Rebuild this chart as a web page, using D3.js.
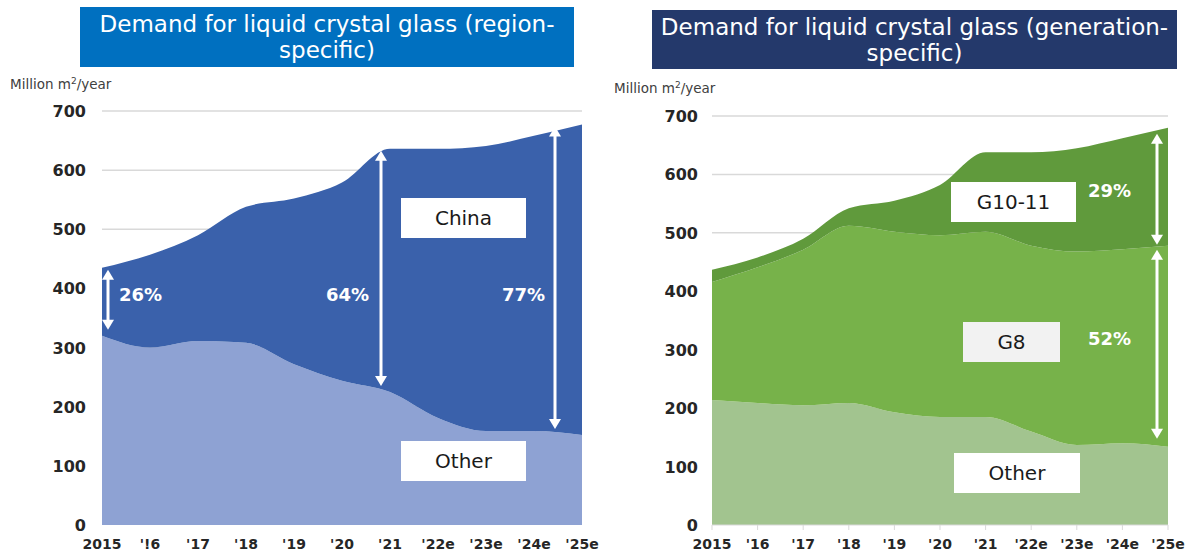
<!DOCTYPE html>
<html>
<head>
<meta charset="utf-8">
<script src="https://cdn.jsdelivr.net/npm/d3@7"></script>
<style>
  html, body { margin: 0; padding: 0; background: #fff; }
  svg { display: block; font-family: "DejaVu Sans", Verdana, sans-serif; }
</style>
</head>
<body>
<svg id="chart" width="1188" height="555"></svg>
<script>
// years on the x axis (0..10 = 2015..2025e)
var years = d3.range(0, 11);
var leftTicks = ["2015", "'!6", "'17", "'18", "'19", "'20", "'21", "'22e", "'23e", "'24e", "'25e"];
var rightTicks = ["2015", "'16", "'17", "'18", "'19", "'20", "'21", "'22e", "'23e", "'24e", "'25e"];
var yTicks = [0, 100, 200, 300, 400, 500, 600, 700];

// region-specific demand, million m2/year
var regionOther = [320, 300, 311, 308, 272, 244, 225, 181, 159, 159, 152];
var regionChina = [115, 157, 179, 230, 280, 335, 411, 455, 482, 499, 525];

// generation-specific demand, million m2/year
var genOther = [214, 209, 205, 209, 193, 185, 185, 160, 137, 140, 134];
var genG8    = [202, 232, 266, 303, 309, 311, 317, 318, 331, 332, 344];
var genG1011 = [21, 17, 19, 30, 53, 86, 136, 160, 177, 190, 202];

var svg = d3.select('#chart');

function drawPanel(opt) {
  var x = d3.scaleLinear().domain([0, 10]).range(opt.xRange);
  var y = d3.scaleLinear().domain([0, 700]).range(opt.yRange);
  var g = svg.append('g');

  // title box
  g.append('rect')
    .attr('x', opt.title.x).attr('y', opt.title.y)
    .attr('width', opt.title.w).attr('height', opt.title.h)
    .attr('fill', opt.title.fill);
  var tt = g.append('text')
    .attr('text-anchor', 'middle')
    .attr('fill', '#fff')
    .style('font-size', '23px');
  opt.title.lines.forEach(function (l, i) {
    tt.append('tspan')
      .attr('x', opt.title.x + opt.title.w / 2)
      .attr('y', opt.title.y + 25 + i * 26)
      .text(l);
  });

  // unit label
  var u = g.append('text')
    .attr('x', opt.unit[0]).attr('y', opt.unit[1])
    .attr('fill', '#404040')
    .style('font-size', '13.5px');
  u.append('tspan').text('Million m');
  u.append('tspan').attr('dy', -5).style('font-size', '9px').text('2');
  u.append('tspan').attr('dy', 5).text('/year');

  // gridlines
  g.selectAll('.grid').data(yTicks.slice(1)).enter().append('line')
    .attr('x1', opt.xRange[0]).attr('x2', opt.xRange[1])
    .attr('y1', function (d) { return y(d); })
    .attr('y2', function (d) { return y(d); })
    .attr('stroke', '#d9d9d9').attr('stroke-width', 1.5);

  // stacked areas
  var rows = years.map(function (i) {
    var r = { i: i };
    opt.keys.forEach(function (k, j) { r[k] = opt.series[j][i]; });
    return r;
  });
  var stacked = d3.stack().keys(opt.keys)(rows);
  var area = d3.area()
    .x(function (d) { return x(d.data.i); })
    .y0(function (d) { return y(d[0]); })
    .y1(function (d) { return y(d[1]); })
    .curve(d3.curveMonotoneX);
  g.selectAll('.layer').data(stacked).enter().append('path')
    .attr('d', area)
    .attr('fill', function (d, i) { return opt.colors[i]; });

  // axes
  if (opt.axisLine) {
    g.append('line')
      .attr('x1', opt.xRange[0]).attr('x2', opt.xRange[1])
      .attr('y1', y(0)).attr('y2', y(0))
      .attr('stroke', '#d9d9d9');
    g.selectAll('.tk').data(years).enter().append('line')
      .attr('x1', function (d) { return x(d); }).attr('x2', function (d) { return x(d); })
      .attr('y1', y(0)).attr('y2', y(0) + 5)
      .attr('stroke', '#d9d9d9');
  }
  g.selectAll('.yl').data(yTicks).enter().append('text')
    .attr('x', opt.yLabelX)
    .attr('y', function (d) { return y(d) + 6; })
    .attr('text-anchor', 'end')
    .attr('fill', '#262626')
    .style('font-size', '16px').style('font-weight', 'bold')
    .text(function (d) { return d; });
  g.selectAll('.xl').data(years).enter().append('text')
    .attr('x', function (d) { return x(d); })
    .attr('y', 549)
    .attr('text-anchor', 'middle')
    .attr('fill', '#262626')
    .style('font-size', '14px').style('font-weight', 'bold')
    .text(function (d) { return opt.ticks[d]; });

  return { g: g, x: x, y: y };
}

function arrow(g, xp, y1, y2) {
  var h = 10, w = 6;
  g.append('line')
    .attr('x1', xp).attr('x2', xp)
    .attr('y1', y1 + h - 1).attr('y2', y2 - h + 1)
    .attr('stroke', '#fff').attr('stroke-width', 3);
  g.append('path')
    .attr('d', 'M' + xp + ',' + y1 + 'L' + (xp - w) + ',' + (y1 + h) + 'L' + (xp + w) + ',' + (y1 + h) + 'Z')
    .attr('fill', '#fff');
  g.append('path')
    .attr('d', 'M' + xp + ',' + y2 + 'L' + (xp - w) + ',' + (y2 - h) + 'L' + (xp + w) + ',' + (y2 - h) + 'Z')
    .attr('fill', '#fff');
}

function pct(g, xp, yp, anchor, txt) {
  g.append('text')
    .attr('x', xp).attr('y', yp)
    .attr('text-anchor', anchor)
    .attr('fill', '#fff')
    .style('font-size', '18px').style('font-weight', 'bold')
    .text(txt);
}

function tag(g, bx, by, bw, bh, fill, txt) {
  g.append('rect').attr('x', bx).attr('y', by).attr('width', bw).attr('height', bh).attr('fill', fill);
  g.append('text')
    .attr('x', bx + bw / 2).attr('y', by + bh / 2 + 7)
    .attr('text-anchor', 'middle')
    .attr('fill', '#1a1a1a')
    .style('font-size', '20px')
    .text(txt);
}

// ---- left panel
var L = drawPanel({
  xRange: [102, 582], yRange: [525, 111],
  title: { x: 80, y: 7, w: 494, h: 60, fill: '#0070c0',
           lines: ['Demand for liquid crystal glass (region-', 'specific)'] },
  unit: [10, 89], yLabelX: 86,
  keys: ['other', 'china'], series: [regionOther, regionChina],
  colors: ['#8ea2d3', '#3a61ab'], ticks: leftTicks, axisLine: false
});
[[0, 6], [6, -9], [10, -27]].forEach(function (a) {
  var i = a[0];
  var tot = regionOther[i] + regionChina[i];
  arrow(L.g, L.x(i) + a[1], L.y(tot) + 2, L.y(regionOther[i]) - 6);
});
pct(L.g, 119, 301, 'start', '26%');
pct(L.g, 369, 301, 'end', '64%');
pct(L.g, 545, 301, 'end', '77%');
tag(L.g, 401, 198, 125, 40, '#fff', 'China');
tag(L.g, 401, 441, 125, 40, '#fff', 'Other');

// ---- right panel
var R = drawPanel({
  xRange: [712, 1168], yRange: [525, 116],
  title: { x: 652, y: 10, w: 525, h: 59, fill: '#24396b',
           lines: ['Demand for liquid crystal glass (generation-', 'specific)'] },
  unit: [614, 93], yLabelX: 698,
  keys: ['other', 'g8', 'g1011'], series: [genOther, genG8, genG1011],
  colors: ['#a2c48f', '#77b24a', '#609a3c'], ticks: rightTicks, axisLine: true
});
var lastIdx = 10, arrowX = R.x(lastIdx) - 11;
var genTotal = genOther[lastIdx] + genG8[lastIdx] + genG1011[lastIdx];
var g8Top = genOther[lastIdx] + genG8[lastIdx];
arrow(R.g, arrowX, R.y(genTotal) + 6, R.y(g8Top) - 1);
arrow(R.g, arrowX, R.y(g8Top) + 4, R.y(genOther[lastIdx]) - 8);
pct(R.g, 1131, 197, 'end', '29%');
pct(R.g, 1131, 345, 'end', '52%');
tag(R.g, 951, 182, 125, 40, '#fff', 'G10-11');
tag(R.g, 963, 322, 97, 40, '#f2f2f2', 'G8');
tag(R.g, 954, 453, 126, 40, '#fff', 'Other');
</script>
</body>
</html>
